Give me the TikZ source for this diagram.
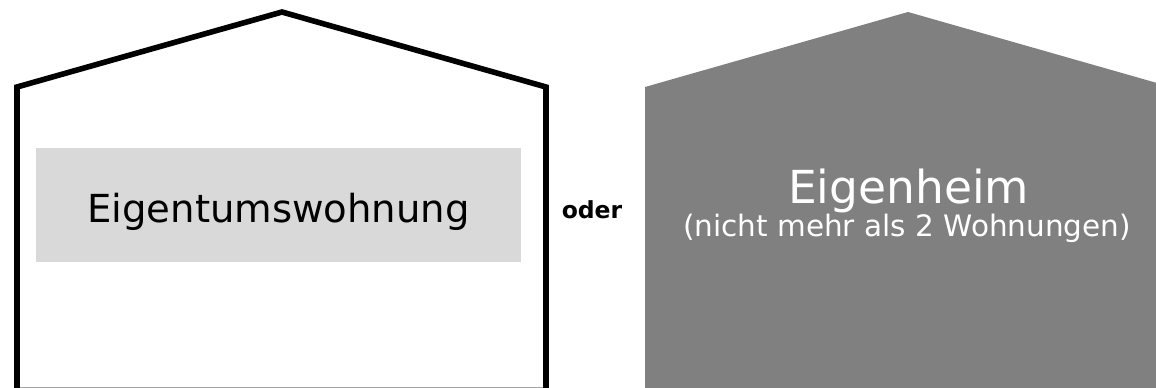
\documentclass[tikz,border=0pt]{standalone}
\usepackage{fontspec}
\setmainfont{DejaVu Sans}
\usepackage{xcolor}
\usetikzlibrary{positioning}
\definecolor{boxgray}{HTML}{D9D9D9}
\definecolor{housegray}{HTML}{808080}
\tikzset{
  wall/.style={line width=5.6pt, line join=miter},
  label/.style={anchor=base, inner sep=0pt}
}
\begin{document}
\begin{tikzpicture}[x=1pt,y=-1pt]
    \useasboundingbox (0,0) rectangle (1156,388);
    % linkes Haus
    \draw[wall] (17,390.5)--(17,87)--(282,12)--(546,87)--(546,390.5)--cycle;
    \fill[boxgray] (36,148) rectangle (521,262);
    \node[label] (wohnung) at (278.5,222) {\fontsize{38.6}{46}\selectfont Eigentumswohnung};
    % oder
    \node[label] (oder) at (592,218) {\fontsize{23.5}{28}\selectfont\bfseries oder};
    % rechtes Haus
    \fill[housegray] (645,392)--(645,87)--(908,12)--(1171,87)--(1171,392)--cycle;
    \node[label, text=white] (heim) at (908.5,203) {\fontsize{45.5}{55}\selectfont Eigenheim};
    \node[label, text=white] (heimzusatz) at (907,236) {\fontsize{29.5}{35}\selectfont (nicht mehr als 2 Wohnungen)};
\end{tikzpicture}
\end{document}
